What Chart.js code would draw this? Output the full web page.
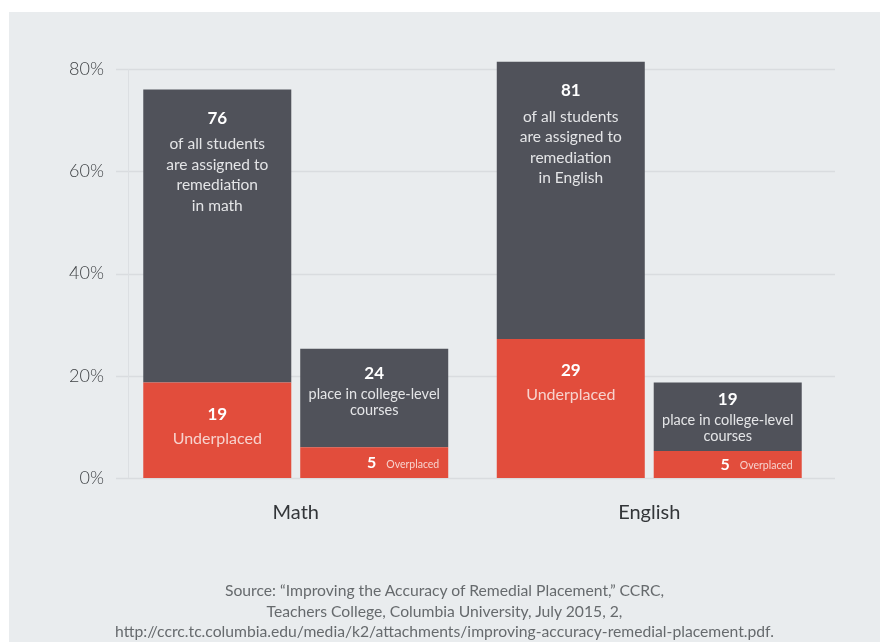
<!DOCTYPE html>
<html>
<head>
<meta charset="utf-8">
<script src="https://cdn.jsdelivr.net/npm/chart.js@4/dist/chart.umd.min.js"></script>
<style>
  html, body { margin: 0; padding: 0; background: #ffffff; }
  #wrap { position: absolute; left: 0; top: 0; width: 880px; height: 642px; }
  #source { position: absolute; left: 9px; width: 871px; top: 580px; text-align: center;
    font-family: Lato, "Open Sans", sans-serif; font-size: 15.7px; line-height: 20.5px; color: #666a6d; }
</style>
</head>
<body>
<div id="wrap"><canvas id="c"></canvas></div>
<div id="source">Source: “Improving the Accuracy of Remedial Placement,” CCRC,<br>Teachers College, Columbia University, July 2015, 2,<br>http://ccrc.tc.columbia.edu/media/k2/attachments/improving-accuracy-remedial-placement.pdf.</div>
<script>
// ---- data ----
const categories = ['Math', 'English'];
const underplaced = [18.7, 27.2];        // red part of the remediation bars
const remediationRest = [57.3, 54.2];    // dark part of the remediation bars (totals ~76, ~81)
const overplaced = [6.0, 5.3];           // red part of the college-level bars
const collegeRest = [19.3, 13.4];        // dark part of the college-level bars (totals ~25, ~19)
const yTickLabels = ['0%', '20%', '40%', '60%', '80%'];

const remediationNumbers = ['76', '81'];
const remediationText = [
  ['of all students', 'are assigned to', 'remediation', 'in math'],
  ['of all students', 'are assigned to', 'remediation', 'in English']
];
const underplacedNumbers = ['19', '29'];
const collegeNumbers = ['24', '19'];
const collegeText = ['place in college-level', 'courses'];
const overplacedNumbers = ['5', '5'];

const RED = '#e24d3c';
const DARK = '#50525a';
const FONT = 'Lato, "Open Sans", sans-serif';

const backgroundPlugin = {
  id: 'bg',
  beforeDraw(chart) {
    const ctx = chart.ctx;
    ctx.save();
    ctx.fillStyle = '#ffffff';
    ctx.fillRect(0, 0, chart.width, chart.height);
    ctx.fillStyle = '#e9ecee';
    ctx.fillRect(9, 12, chart.width - 9, chart.height - 12);
    ctx.restore();
  }
};

const gridPlugin = {
  id: 'grid',
  beforeDatasetsDraw(chart) {
    const ctx = chart.ctx;
    const ys = chart.scales.y;
    ctx.save();
    ctx.strokeStyle = '#d9dcdf';
    ctx.lineWidth = 1.5;
    ys.ticks.forEach(t => {
      const y = Math.round(ys.getPixelForValue(t.value)) + 0.5;
      ctx.beginPath();
      ctx.moveTo(116, y);
      ctx.lineTo(835, y);
      ctx.stroke();
    });
    ctx.strokeStyle = '#dcdfe2';
    ctx.lineWidth = 1;
    ctx.beginPath();
    ctx.moveTo(128.5, ys.getPixelForValue(80));
    ctx.lineTo(128.5, ys.getPixelForValue(0));
    ctx.stroke();
    ctx.restore();
  }
};

const labelPlugin = {
  id: 'barLabels',
  afterDatasetsDraw(chart) {
    const ctx = chart.ctx;
    const mRed = chart.getDatasetMeta(0).data;
    const mDark = chart.getDatasetMeta(1).data;
    const mOver = chart.getDatasetMeta(2).data;
    const mCol = chart.getDatasetMeta(3).data;
    ctx.save();
    ctx.textAlign = 'center';
    ctx.textBaseline = 'middle';
    for (let i = 0; i < categories.length; i++) {
      // remediation bar, dark part
      const d = mDark[i];
      let y = d.y + 29;
      ctx.fillStyle = '#ffffff';
      ctx.font = 'bold 17px ' + FONT;
      ctx.fillText(remediationNumbers[i], d.x, y);
      ctx.fillStyle = '#e4e5e7';
      ctx.font = '15.5px ' + FONT;
      y += 26;
      remediationText[i].forEach((line, k) => {
        ctx.fillText(line, d.x, y + k * 20.5);
      });
      // remediation bar, red part
      const r = mRed[i];
      ctx.fillStyle = '#ffffff';
      ctx.font = 'bold 17px ' + FONT;
      ctx.fillText(underplacedNumbers[i], r.x, r.y + 32);
      ctx.fillStyle = '#f7d3ce';
      ctx.font = '16px ' + FONT;
      ctx.fillText('Underplaced', r.x, r.y + 56);
      // college bar, dark part
      const c = mCol[i];
      const off = i === 0 ? 25 : 17;
      ctx.fillStyle = '#ffffff';
      ctx.font = 'bold 17px ' + FONT;
      ctx.fillText(collegeNumbers[i], c.x, c.y + off);
      ctx.fillStyle = '#e4e5e7';
      ctx.font = '14.5px ' + FONT;
      ctx.fillText(collegeText[0], c.x, c.y + off + 21);
      ctx.fillText(collegeText[1], c.x, c.y + off + 36.5);
      // college bar, red part
      const o = mOver[i];
      const right = o.x + o.width / 2 - 9;
      const cy = (o.y + o.base) / 2 + 0.5;
      ctx.textAlign = 'right';
      ctx.fillStyle = '#f7d3ce';
      ctx.font = '10.5px ' + FONT;
      ctx.fillText('Overplaced', right, cy + 1);
      const w = ctx.measureText('Overplaced').width;
      ctx.fillStyle = '#ffffff';
      ctx.font = 'bold 16px ' + FONT;
      ctx.fillText(overplacedNumbers[i], right - w - 10, cy);
      ctx.textAlign = 'center';
    }
    ctx.restore();
  }
};

new Chart(document.getElementById('c'), {
  type: 'bar',
  data: {
    labels: categories,
    datasets: [
      { label: 'Underplaced', data: underplaced, backgroundColor: RED, stack: 'remediation' },
      { label: 'Assigned to remediation', data: remediationRest, backgroundColor: DARK, stack: 'remediation' },
      { label: 'Overplaced', data: overplaced, backgroundColor: RED, stack: 'college' },
      { label: 'Place in college-level courses', data: collegeRest, backgroundColor: DARK, stack: 'college' }
    ]
  },
  options: {
    responsive: true,
    maintainAspectRatio: false,
    animation: false,
    devicePixelRatio: 1,
    layout: { padding: { left: 0, top: 69, right: 54, bottom: 0 } },
    datasets: { bar: { categoryPercentage: 0.888, barPercentage: 0.943, borderWidth: 0, clip: false } },
    plugins: { legend: { display: false }, tooltip: { enabled: false } },
    scales: {
      x: {
        stacked: true,
        grid: { display: false, drawTicks: false },
        border: { display: false },
        ticks: { color: '#333639', font: { family: FONT, size: 20 }, padding: 23 },
        afterFit(scale) { scale.height = 164; }
      },
      y: {
        stacked: true,
        min: 0, max: 80,
        grid: { display: false, drawTicks: false },
        border: { display: false },
        ticks: {
          stepSize: 20,
          color: '#3f4245',
          padding: 15,
          font: { family: FONT, size: 18, weight: '300' },
          callback: (v, i) => yTickLabels[i]
        },
        afterFit(scale) { scale.width = 119; }
      }
    }
  },
  plugins: [backgroundPlugin, gridPlugin, labelPlugin]
});
</script>
</body>
</html>
